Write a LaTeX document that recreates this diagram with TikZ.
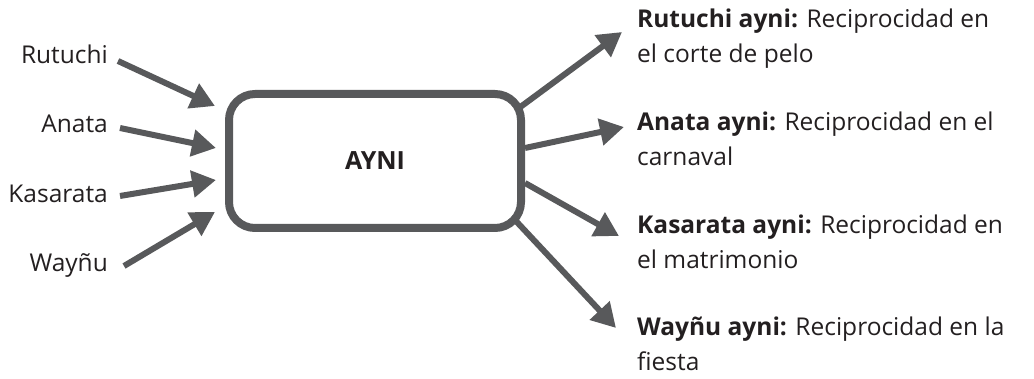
\documentclass[tikz,border=0pt]{standalone}
\usepackage{fontspec}
\setmainfont{Open Sans}
\usetikzlibrary{arrows.meta}
\definecolor{arrowgray}{HTML}{58595B}
\definecolor{textblack}{HTML}{231F20}
\begin{document}
\begin{tikzpicture}[x=1pt,y=-1pt,
  lbl/.style={inner sep=0pt,text=textblack,font=\fontsize{24.5}{35}\selectfont},
  conn/.style={draw=arrowgray,line width=6pt,-{Triangle[length=24pt,width=26pt]}},
  centerbox/.style={draw=arrowgray,line width=8pt,rounded corners=26pt,minimum width=292pt,minimum height=134pt,inner sep=0pt,fill=white}]
\useasboundingbox (0,0) rectangle (1034,379);
% central box
\node[centerbox] (ayni) at (375,161) {};
\node[lbl,font=\fontsize{25}{35}\selectfont\bfseries] (aynitxt) at (375,161) {AYNI};
% left labels
\node[lbl,anchor=base east] (l1) at (108,64) {Rutuchi};
\node[lbl,anchor=base east] (l2) at (108,133) {Anata};
\node[lbl,anchor=base east] (l3) at (108,203) {Kasarata};
\node[lbl,anchor=base east] (l4) at (108,272) {Wayñu};
% left arrow ends
\coordinate (a1s) at (118,61);
\coordinate (a1e) at (215,106);
\coordinate (a2s) at (120,128);
\coordinate (a2e) at (216,148);
\coordinate (a3s) at (120,196);
\coordinate (a3e) at (216,180);
\coordinate (a4s) at (124,266);
\coordinate (a4e) at (215,212);
\draw[conn] (a1s) -- (a1e);
\draw[conn] (a2s) -- (a2e);
\draw[conn] (a3s) -- (a3e);
\draw[conn] (a4s) -- (a4e);
% right labels
\node[lbl,anchor=base west] (r1) at (637,28) {\begin{tabular}[t]{@{}l@{}}\textbf{Rutuchi ayni:} Reciprocidad en\\el corte de pelo\end{tabular}};
\node[lbl,anchor=base west] (r2) at (637,131) {\begin{tabular}[t]{@{}l@{}}\textbf{Anata ayni:} Reciprocidad en el\\carnaval\end{tabular}};
\node[lbl,anchor=base west] (r3) at (637,234) {\begin{tabular}[t]{@{}l@{}}\textbf{Kasarata ayni:} Reciprocidad en\\el matrimonio\end{tabular}};
\node[lbl,anchor=base west] (r4) at (637,336) {\begin{tabular}[t]{@{}l@{}}\textbf{Wayñu ayni:} Reciprocidad en la\\fiesta\end{tabular}};
% right arrows
\coordinate (b1s) at (519,108);
\coordinate (b1e) at (622,32);
\coordinate (b2s) at (525,148);
\coordinate (b2e) at (624,127);
\coordinate (b3s) at (525,183);
\coordinate (b3e) at (619,236);
\coordinate (b4s) at (515,220);
\coordinate (b4e) at (616,328);
\draw[conn] (b1s) -- (b1e);
\draw[conn] (b2s) -- (b2e);
\draw[conn] (b3s) -- (b3e);
\draw[conn] (b4s) -- (b4e);
\end{tikzpicture}
\end{document}
